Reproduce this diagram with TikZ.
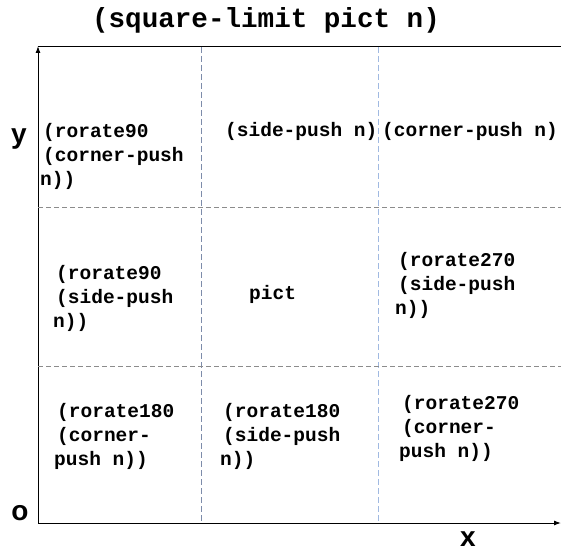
\documentclass[tikz,border=0pt]{standalone}
\usepackage{fontspec}
\setmainfont{Liberation Mono}
\newfontfamily\labfont{Liberation Sans}
\usetikzlibrary{arrows.meta}
\newcommand{\ind}{\hspace*{3pt}}
\begin{document}
\begin{tikzpicture}[x=1pt,y=-1pt,
  cell/.style={font=\fontsize{19.5}{24}\selectfont\bfseries, align=left, anchor=west, inner sep=0pt},
  axlab/.style={font=\fontsize{28}{30}\selectfont\labfont\bfseries, inner sep=0pt},
  axis/.style={line width=1pt, -{Latex[length=7pt,width=5pt]}},
  gridv/.style={dash pattern=on 6pt off 3pt, line width=0.8pt},
  gridh/.style={dash pattern=on 5pt off 3pt, line width=0.8pt, color=black!45}]
\useasboundingbox (0,0) rectangle (561,553);
% axes
\coordinate (O) at (38,523);
\coordinate (Ytop) at (38,46);
\coordinate (Xend) at (561,523);
\coordinate (Tend) at (561,47);
\draw[axis] (O) -- (Ytop);
\draw[axis] (O) -- (Xend);
\draw[line width=1pt] (38,47) -- (Tend);
% grid
\coordinate (v1t) at (201,47); \coordinate (v1b) at (201,523);
\coordinate (v2t) at (378,47); \coordinate (v2b) at (378,523);
\coordinate (h1l) at (38,207); \coordinate (h1r) at (561,207);
\coordinate (h2l) at (38,366); \coordinate (h2r) at (561,366);
\draw[gridv, color={rgb,255:red,125;green,140;blue,170}] (v1t) -- (v1b);
\draw[gridv, color={rgb,255:red,160;green,185;blue,225}] (v2t) -- (v2b);
\draw[gridh] (h1l) -- (h1r);
\draw[gridh] (h2l) -- (h2r);
% title
\node[font=\fontsize{27.6}{30}\selectfont\bfseries, inner sep=0pt] (title) at (266,20) {(square-limit pict n)};
% axis labels
\node[axlab] (ylab) at (19,139) {y};
\node[axlab] (olab) at (20,513) {o};
\node[axlab] (xlab) at (468,539) {x};
% cells
\node[cell] (c02) at (40,156) {\ind(rorate90\\\ind(corner-push\\n))};
\node[cell] (c12) at (225,131) {(side-push n)};
\node[cell] (c22) at (382,131) {(corner-push n)};
\node[cell] (c01) at (53,298) {\ind(rorate90\\\ind(side-push\\n))};
\node[cell] (c11) at (249,294) {pict};
\node[cell] (c21) at (395,285) {\ind(rorate270\\\ind(side-push\\n))};
\node[cell] (c00) at (54,436) {\ind(rorate180\\\ind(corner-\\push n))};
\node[cell] (c10) at (220,436) {\ind(rorate180\\\ind(side-push\\n))};
\node[cell] (c20) at (399,428) {\ind(rorate270\\\ind(corner-\\push n))};
\end{tikzpicture}
\end{document}
